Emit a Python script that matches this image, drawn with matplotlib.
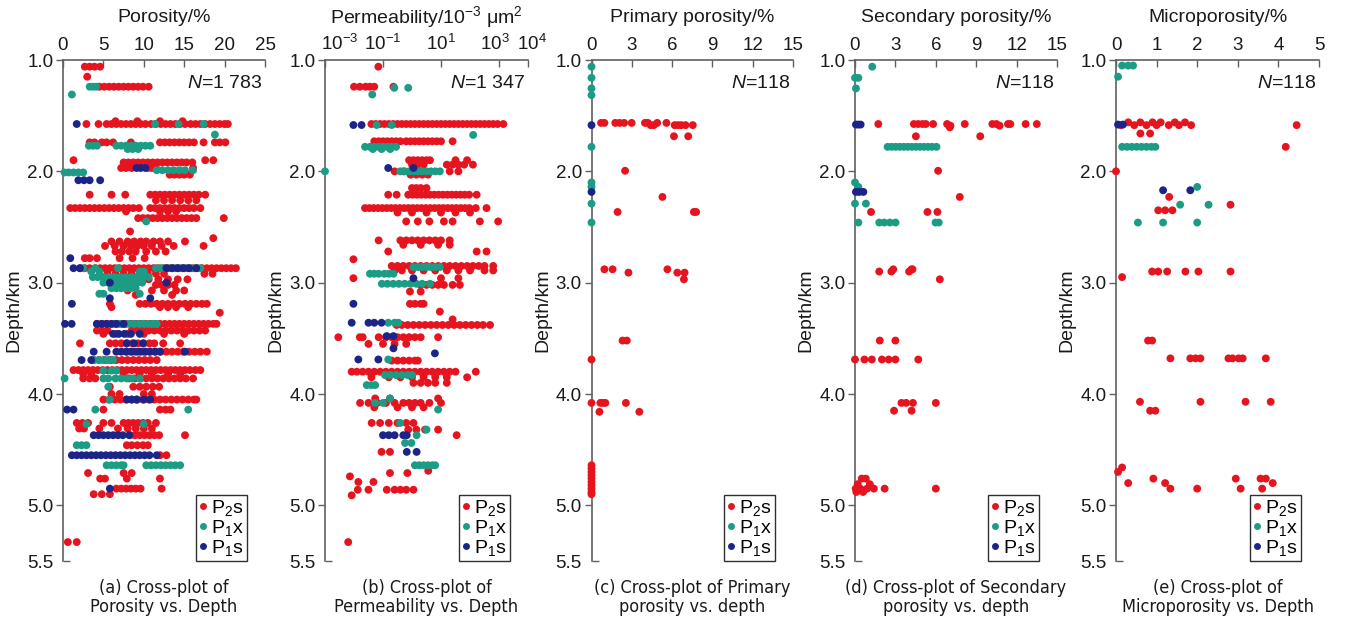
import matplotlib
matplotlib.use("Agg")
import matplotlib.pyplot as plt
from matplotlib.lines import Line2D
from matplotlib.ticker import FixedLocator, FixedFormatter
import matplotlib.transforms as mtransforms

plt.rcParams['font.family'] = ['Liberation Sans', 'DejaVu Sans']
plt.rcParams['mathtext.fontset'] = 'custom'
plt.rcParams['mathtext.rm'] = 'Liberation Sans'
plt.rcParams['mathtext.it'] = 'Liberation Sans:italic'
plt.rcParams['mathtext.default'] = 'regular'

# ---------------- DATA ----------------
series_names = ['P$_2$s', 'P$_1$x', 'P$_1$s']
series_colors = ['#E5141E', '#1C9C84', '#1C2488']

# Panel (a): porosity (%) rows: (depth_km, [porosity values])
a_P2s = [
    (1.06, [2.7, 3.3, 3.9, 4.6]),
    (1.15, [3.0]),
    (1.24, [4.5, 5.1, 5.7, 6.3, 6.9, 7.5, 8.1, 8.7, 9.3, 9.9, 10.6]),
    (1.575, [2.9, 4.4, 5.4, 6.0, 6.6, 7.2, 7.8, 8.4, 9.0, 9.6, 10.2, 10.9, 11.5, 12.1, 12.7, 13.3,
             13.9, 14.5, 15.1, 15.8, 16.4, 17.0, 17.6, 18.2, 18.8, 19.4, 20.0, 20.4]),
    (1.55, [6.5, 9.2, 12.0, 14.8]),
    (1.74, [3.3, 3.9, 4.8, 5.4, 6.2, 8.4, 12.0, 12.6, 13.2, 13.8, 14.4, 15.0, 15.6, 16.2, 17.4,
            18.8, 19.4, 20.1]),
    (1.90, [1.3, 17.6, 18.6]),
    (1.92, [7.5, 8.1, 8.7, 9.3, 9.9, 10.5, 11.1, 11.7, 12.3, 12.9, 13.5, 14.1, 14.7, 15.3, 16.0]),
    (1.97, [7.2, 7.8, 8.5, 10.5, 11.0, 11.5, 16.1]),
    (2.03, [13.2, 13.8, 14.4, 15.0, 15.7]),
    (2.21, [3.3, 6.0, 7.7, 10.8, 11.4, 12.0, 12.6, 13.2, 13.8, 14.4, 15.0, 15.6, 16.2, 16.8, 17.6]),
    (2.26, [11.5, 12.5, 13.5, 14.5, 15.5, 16.5]),
    (2.33, [0.9, 1.5, 2.1, 2.7, 3.3, 3.9, 4.5, 5.1, 5.7, 6.3, 6.9, 7.5, 8.1, 8.7, 9.4, 10.8, 11.4,
            12.0, 12.6, 13.2, 13.8, 14.4, 15.0, 15.6, 16.2, 17.0]),
    (2.36, [7.8, 12.0, 13.0, 14.0]),
    (2.42, [9.3, 9.9, 10.5, 11.1, 11.7, 12.3, 12.9, 13.5, 14.1, 14.7, 15.3, 15.9, 16.5, 19.9]),
    (2.54, [8.3]),
    (2.60, [18.6]),
    (2.63, [6.0, 7.0, 8.0, 8.8, 9.6, 10.3, 11.2, 12.0, 13.0, 15.1]),
    (2.67, [5.2, 6.4, 7.5, 8.4, 9.2, 10.0, 11.0, 12.2, 13.7, 17.4]),
    (2.72, [6.5, 7.3, 8.2, 9.0, 10.3, 11.5, 12.7]),
    (2.78, [2.7, 3.3, 4.2, 7.0, 8.6, 10.1]),
    (2.87, [2.1, 2.7, 3.3, 4.0, 4.6, 5.2, 5.8, 6.4, 7.0, 7.6, 8.2, 8.8, 9.4, 10.0, 10.6, 11.2, 11.8,
            12.4, 13.0, 13.6, 14.2, 14.8, 15.4, 16.0, 16.6, 17.2, 17.8, 18.4, 19.0, 19.6, 20.2,
            20.8, 21.4]),
    (2.92, [5.5, 6.5, 7.5, 8.5, 9.5, 10.5, 11.5, 12.5, 17.5, 18.5]),
    (2.97, [7.0, 8.2, 9.4, 10.6, 11.8, 13.0, 14.2, 15.4]),
    (3.02, [6.0, 11.5, 12.2, 13.0, 13.8]),
    (3.07, [8.0, 11.0, 12.5, 14.0, 15.0]),
    (3.11, [9.0, 13.5]),
    (3.19, [5.8, 9.5, 10.2, 10.9, 11.6, 12.3, 13.0, 13.7, 14.4, 15.1, 15.8, 16.5, 17.2, 17.8]),
    (3.22, [6.0, 12.0, 13.0, 14.0, 15.5]),
    (3.27, [19.4]),
    (3.37, [4.2, 4.8, 5.4, 6.0, 6.6, 7.2, 7.8, 8.4, 9.0, 9.6, 10.2, 10.8, 11.4, 12.0, 12.6, 13.2,
            13.8, 14.4, 15.0, 15.6, 16.2, 16.8, 17.4, 18.0, 18.6, 19.0]),
    (3.43, [4.2, 4.8, 5.5, 8.5, 9.2, 9.9, 10.6, 11.3, 12.0, 12.7, 13.4, 14.1, 14.8, 15.5, 16.2,
            16.9, 17.6]),
    (3.46, [5.0, 6.5, 8.0, 10.0, 12.5, 15.0]),
    (3.545, [2.1, 5.8, 6.5, 7.2, 7.9, 8.6, 9.3, 10.0, 10.7, 11.3, 12.4, 14.5]),
    (3.62, [7.9, 8.6, 9.3, 10.0, 10.7, 11.4, 12.1, 12.8, 13.5, 14.2, 14.9, 15.6, 16.3, 17.0, 17.8]),
    (3.695, [3.8, 4.5, 5.2, 5.9, 6.6, 7.3, 8.0, 8.7, 9.4, 10.1, 10.8, 11.6]),
    (3.785, [1.3, 1.9, 2.5, 3.1, 3.7, 4.3, 4.9, 5.5, 6.1, 6.7, 7.3, 7.9, 8.5, 9.1, 9.7, 10.3, 10.9,
             11.5, 12.1, 12.7, 13.3, 13.9, 14.5, 15.1, 15.7, 16.4, 17.0]),
    (3.82, [2.5, 3.5, 7.5, 9.5, 11.0, 13.0, 14.5]),
    (3.86, [2.5, 3.3, 4.0, 8.2, 8.9, 9.6, 10.3, 11.0, 11.7, 12.4, 13.1, 13.8, 14.5, 15.2, 16.1]),
    (3.935, [5.8, 8.7, 9.5, 10.3, 11.1, 11.9]),
    (4.00, [6.0, 7.0, 10.0, 11.0]),
    (4.05, [5.0, 5.7, 6.4, 7.1, 7.8, 8.5, 9.2, 9.9, 10.6, 11.3, 12.0, 12.7, 13.4, 14.1, 14.8,
            15.5, 16.2, 16.5]),
    (4.14, [5.0, 12.0, 12.7, 13.3]),
    (4.26, [1.7, 2.4, 3.1, 5.0, 6.0, 7.5, 8.1, 8.7, 9.3, 9.9, 10.5, 11.5]),
    (4.31, [2.0, 2.6, 4.5, 6.8, 8.0, 9.0, 10.0, 11.0]),
    (4.37, [8.3, 8.9, 9.5, 10.1, 10.7, 11.3, 11.9, 15.1]),
    (4.46, [7.9, 8.5, 9.2, 9.9, 10.5]),
    (4.55, [12.0, 12.8]),
    (4.71, [3.1, 7.5, 8.5]),
    (4.76, [4.6, 5.2, 7.9, 12.0]),
    (4.85, [6.6, 7.2, 7.8, 8.4, 9.0, 9.6, 12.2]),
    (4.90, [3.8, 4.8, 5.8]),
    (5.33, [0.6, 1.7]),
]
a_P1x = [
    (1.24, [3.3, 3.7, 4.1]),
    (1.31, [1.1]),
    (1.575, [11.4, 14.3, 17.4]),
    (1.67, [18.8]),
    (1.77, [3.2, 3.7, 4.2, 6.6, 7.2, 7.8, 8.4, 9.0, 9.6, 10.2, 10.8]),
    (1.80, [8.0, 8.6, 9.3]),
    (1.99, [11.6, 12.3, 13.0, 13.7, 14.4, 15.1, 16.1]),
    (2.01, [0.2, 0.7, 1.3, 1.9, 2.5]),
    (2.45, [10.3]),
    (2.87, [2.5, 4.0, 6.8, 11.5, 12.1, 12.7, 13.3, 13.9, 14.5, 15.1, 15.7, 16.3, 17.0]),
    (2.90, [3.5, 4.5, 9.5, 10.0]),
    (2.95, [3.7, 4.3, 5.0, 5.7, 6.4, 7.1, 7.8, 8.5, 9.2, 9.9, 10.6]),
    (3.00, [5.0, 5.6, 6.2, 6.8, 7.4, 8.0, 8.6, 9.2, 9.8]),
    (3.05, [6.0, 6.6, 7.2, 7.8, 8.4, 9.0]),
    (3.10, [4.5, 5.0, 9.5]),
    (3.37, [6.4, 7.0, 7.6, 8.2, 8.8, 9.4, 10.0, 10.6, 11.2, 11.6]),
    (3.695, [3.8, 4.4, 5.0, 5.6, 6.2]),
    (3.79, [5.0, 6.0, 6.6]),
    (3.86, [0.2, 5.0, 5.6, 6.5, 7.2, 7.9, 8.6, 9.5]),
    (3.935, [5.6]),
    (4.05, [5.8, 9.1]),
    (4.14, [4.0, 15.5]),
    (4.27, [2.9, 10.0]),
    (4.46, [1.7, 2.3, 2.9]),
    (4.64, [5.4, 6.0, 6.6, 7.2, 7.5, 10.3, 10.9, 11.5, 12.1, 12.7, 13.3, 13.9, 14.5]),
]
a_P1s = [
    (1.575, [1.7]),
    (1.97, [9.1, 9.6, 10.2]),
    (2.08, [1.9, 2.6, 3.3, 4.6]),
    (2.78, [0.9]),
    (2.87, [1.3, 2.1, 12.8, 13.5, 14.2, 14.9, 15.6, 16.5]),
    (3.00, [5.8, 12.8]),
    (3.14, [5.8, 10.8]),
    (3.19, [1.1]),
    (3.37, [0.25, 1.07, 4.2, 4.8, 5.4, 6.0, 6.6, 7.5]),
    (3.46, [6.2, 6.9, 7.6, 8.4, 9.5]),
    (3.545, [7.9, 8.8, 9.9]),
    (3.62, [3.8, 5.4, 6.6, 7.2, 7.8, 8.4, 9.0, 9.6, 10.2, 10.8, 11.4, 12.0, 15.1]),
    (3.695, [2.3, 3.5]),
    (4.05, [7.9, 8.5, 9.1, 10.0, 10.8]),
    (4.14, [0.5, 1.3]),
    (4.37, [3.8, 4.4, 5.0, 5.6, 6.2, 6.8, 7.4, 8.2]),
    (4.55, [1.1, 1.7, 2.3, 2.9, 3.5, 4.1, 4.7, 5.3, 5.9, 6.5, 7.1, 7.7, 8.3, 8.9, 9.5, 10.1,
            10.7, 11.6]),
    (4.85, [5.8]),
]

# Panel (b): permeability rows: (depth_km, [log10 permeability, 10^-3 um^2])
b_P2s = [
    (1.06, [-1.16]),
    (1.24, [-2.0, -1.8, -1.6, -1.45, -1.3, -0.64]),
    (1.575, [-1.4, -1.25, -1.1, -0.95, -0.8, -0.65, -0.5, -0.35, -0.2, -0.05, 0.1, 0.25, 0.4,
             0.55, 0.7, 0.85, 1.0, 1.15, 1.3, 1.45, 1.6, 1.75, 1.9, 2.05, 2.2, 2.35, 2.5, 2.65,
             2.8, 2.95, 3.15]),
    (1.73, [-1.3, -1.15, -1.0, -0.85, -0.7, -0.55, -0.4, -0.2, -0.05, 0.1, 0.25, 0.4, 0.55, 0.7,
            0.85, 1.0, 1.4]),
    (1.90, [-0.1, 0.05, 0.2, 0.35, 0.5, 0.62, 1.5, 1.9]),
    (1.94, [0.0, 0.2, 0.4, 1.2, 1.4, 1.6, 1.8, 2.1]),
    (2.00, [-0.6, -0.3, 0.0, 1.3, 1.6]),
    (2.03, [-0.05, 0.15, 0.35, 0.55]),
    (2.15, [0.0, 0.15, 0.3, 0.5]),
    (2.21, [-0.82, -0.53, -0.13, 0.02, 0.17, 0.32, 0.47, 0.62, 0.77, 0.92, 1.07, 1.22, 1.37,
            1.52, 1.67, 1.82, 1.97, 2.23]),
    (2.33, [-1.62, -1.47, -1.32, -1.17, -1.02, -0.87, -0.72, -0.57, -0.42, -0.27, -0.12, 0.03,
            0.18, 0.33, 0.48, 0.63, 0.78, 0.93, 1.08, 1.23, 1.38, 1.53, 1.68, 1.83, 1.98, 2.2,
            2.57]),
    (2.37, [-0.5, 0.0, 0.5, 1.0, 1.5, 2.0]),
    (2.45, [-0.2, 0.2, 0.6, 1.1, 1.4, 2.34, 2.97]),
    (2.62, [-1.15, -0.4, -0.2, 0.0, 0.2, 0.4, 0.6, 0.8, 1.0, 1.3]),
    (2.66, [-0.3, 0.3, 0.9, 1.3]),
    (2.72, [-0.82, 2.23, 2.57]),
    (2.79, [-2.02]),
    (2.85, [-0.7, -0.5, -0.3, -0.1, 0.1, 0.3, 0.5, 0.7, 0.9, 1.1, 1.3, 1.5, 1.7, 1.9, 2.1, 2.3,
            2.5, 2.8]),
    (2.89, [-0.6, -0.35, 0.0, 0.4, 0.8, 1.2, 1.6, 2.0, 2.5, 2.8]),
    (2.96, [-2.02, 1.0, 1.6]),
    (3.02, [0.3, 0.5, 0.7, 0.9, 1.1, 1.4, 1.65]),
    (3.08, [-0.07, 0.3]),
    (3.19, [-0.07, 0.1, 0.3, 0.4]),
    (3.26, [0.96]),
    (3.33, [1.4]),
    (3.38, [-0.53, -0.35, -0.15, 0.05, 0.25, 0.45, 0.65, 0.85, 1.05, 1.25, 1.45, 1.65, 1.85,
            2.05, 2.25, 2.45, 2.69]),
    (3.49, [-2.54, -1.8, -1.7, -1.15, -0.9, -0.7, -0.5, -0.3, -0.1, 0.1, 0.3, 0.9]),
    (3.55, [-1.5, -1.0, -0.6, -0.2]),
    (3.70, [-0.7, -0.5, -0.3, -0.1, 0.1, 0.2]),
    (3.80, [-2.08, -1.9, -1.7, -1.5, -1.3, -1.1, -0.9, -0.7, -0.5, -0.3, -0.1, 0.1, 0.3, 0.5,
            0.7, 0.9, 1.1, 1.3, 1.5, 2.2]),
    (3.85, [-1.4, -0.8, -0.4, 0.0, 0.4, 0.8, 1.2, 1.9]),
    (3.90, [0.05, 0.3, 0.55, 0.8, 1.2]),
    (4.04, [-1.27, -0.76, 0.9]),
    (4.08, [-1.79, -1.5, -1.2, -0.9, -0.6, -0.3, -0.1, 0.1, 0.3, 0.6, 1.0]),
    (4.12, [-1.3, -0.5, 0.0, 0.4]),
    (4.26, [-1.39, -1.1, -0.8, -0.5, -0.2, 0.05]),
    (4.32, [-0.13, 0.15, 0.45, 0.9]),
    (4.37, [1.54]),
    (4.52, [-1.05, -0.76]),
    (4.69, [0.56]),
    (4.71, [-0.76, -0.16]),
    (4.74, [-2.14]),
    (4.79, [-1.85, -1.33]),
    (4.86, [-1.87, -1.5, -0.87, -0.6, -0.4, -0.2, 0.05]),
    (4.91, [-2.08]),
    (5.33, [-2.2]),
]
b_P1x = [
    (1.25, [-0.61, -0.13]),
    (1.31, [-1.37]),
    (1.584, [-1.22, -0.7]),
    (1.673, [2.11]),
    (1.78, [-1.62, -1.45, -1.3, -1.15, -1.0, -0.85, -0.7, -0.55]),
    (1.80, [-1.35, -1.05, -0.75]),
    (2.00, [-3.0, -0.41, -0.25, -0.1, 0.05, 0.2, 0.35, 0.5, 0.65, 0.8, 0.96]),
    (2.86, [0.05, 0.2, 0.35, 0.5, 0.65, 0.8, 0.96]),
    (2.92, [-1.45, -1.3, -1.15, -0.95, -0.8, -0.64]),
    (3.01, [-1.04, -0.85, -0.65, -0.45, -0.25, -0.05, 0.15, 0.35, 0.62]),
    (3.36, [-0.82, -0.6, -0.47]),
    (3.69, [-0.82]),
    (3.83, [-0.93, -0.75, -0.55, -0.35, -0.15, 0.0]),
    (3.92, [-1.56, -1.4, -1.27]),
    (4.04, [-0.76]),
    (4.08, [-1.27, -1.0]),
    (4.14, [0.9]),
    (4.26, [-0.41]),
    (4.32, [0.5]),
    (4.37, [0.16]),
    (4.44, [-0.24, -0.02]),
    (4.64, [0.1, 0.25, 0.4, 0.55, 0.7, 0.8]),
]
b_P1s = [
    (1.584, [-2.02, -1.74]),
    (1.97, [-0.82, 0.05]),
    (2.96, [0.05]),
    (3.19, [-2.02]),
    (3.36, [-2.08, -1.5, -1.3, -1.05]),
    (3.48, [-0.87, -0.64]),
    (3.59, [-0.64]),
    (3.635, [0.79]),
    (3.69, [-1.85, -1.16]),
    (4.37, [-1.0, -0.8, -0.6, -0.3, -0.18]),
    (4.52, [-0.18, 0.16]),
]

# Panel (c): primary porosity (%)
c_P2s = [
    (1.565, [0.71, 0.96, 1.77, 2.09, 2.43, 2.99, 3.98, 4.2, 4.89, 5.58]),
    (1.585, [4.4, 4.64, 6.19, 6.44, 6.68, 7.0, 7.54]),
    (1.685, [6.14, 7.2]),
    (1.995, [2.5]),
    (2.23, [5.28]),
    (2.365, [1.94, 7.62, 7.79]),
    (2.88, [0.96, 1.57, 5.65]),
    (2.91, [2.75, 6.39, 6.93]),
    (2.97, [6.88]),
    (3.52, [2.31, 2.63]),
    (3.69, [0.0]),
    (4.08, [0.0, 0.66, 0.86, 1.03, 2.56]),
    (4.16, [0.59, 3.56]),
    (4.64, [0.0]), (4.67, [0.0]), (4.70, [0.0]), (4.73, [0.0]), (4.76, [0.0]),
    (4.79, [0.0]), (4.82, [0.0]), (4.85, [0.0]), (4.88, [0.0]), (4.90, [0.0]),
]
c_P1x = [
    (1.06, [0.0]), (1.16, [0.0]), (1.255, [0.0]), (1.315, [0.0]), (1.78, [0.0]),
    (2.10, [0.0]), (2.14, [0.0]), (2.29, [0.0]), (2.46, [0.0]),
]
c_P1s = [(1.585, [0.0]), (2.185, [0.0])]

# Panel (d): secondary porosity (%)
d_P2s = [
    (1.575, [1.73, 4.37, 4.69, 5.01, 5.26, 5.8, 6.84, 8.15, 10.2, 10.5, 11.36, 11.53, 12.67, 13.5]),
    (1.59, [7.09, 10.74]),
    (1.605, [7.04]),
    (1.685, [4.52, 9.3]),
    (1.995, [6.17]),
    (2.23, [7.78]),
    (2.365, [1.19, 5.38, 6.12]),
    (2.88, [2.84, 4.2, 4.27]),
    (2.90, [1.8, 2.7, 4.02]),
    (2.97, [6.3]),
    (3.52, [1.84, 3.0]),
    (3.69, [0.0, 0.7, 1.25, 2.0, 2.5, 3.0, 4.7]),
    (4.08, [3.45, 3.8, 4.3, 6.0]),
    (4.15, [2.9, 4.2]),
    (4.76, [0.5, 0.8]),
    (4.81, [0.2, 1.1]),
    (4.85, [0.05, 0.4, 0.9, 1.4, 2.2, 6.0]),
    (4.88, [0.1, 0.6]),
]
d_P1x = [
    (1.06, [1.28]),
    (1.16, [0.0, 0.25]),
    (1.255, [0.07]),
    (1.78, [2.42, 2.72, 3.02, 3.32, 3.62, 3.92, 4.22, 4.52, 4.82, 5.12, 5.42, 5.72, 6.05]),
    (2.10, [0.0]),
    (2.14, [0.25]),
    (2.29, [0.0, 0.81]),
    (2.46, [0.25, 1.8, 2.17, 2.59, 3.01, 5.98, 6.22]),
]
d_P1s = [(1.58, [0.07, 0.25, 0.42]), (2.185, [0.07, 0.32, 0.62])]

# Panel (e): microporosity (%)
e_P2s = [
    (1.56, [0.3, 0.6, 0.9, 1.1, 1.45, 1.7]),
    (1.585, [0.12, 0.45, 0.75, 1.0, 1.3, 1.55, 1.85, 4.45]),
    (1.66, [0.6, 0.84]),
    (1.78, [4.18]),
    (2.00, [0.0]),
    (2.23, [1.31]),
    (2.30, [2.82]),
    (2.35, [1.04, 1.21, 1.39]),
    (2.90, [0.89, 1.04, 1.26, 1.71, 2.03, 2.82]),
    (2.95, [0.15]),
    (3.52, [0.79, 0.89]),
    (3.68, [1.34, 1.83, 1.96, 2.08, 2.77, 2.87, 3.02, 3.12, 3.69]),
    (4.07, [0.59, 2.08, 3.19, 3.81]),
    (4.15, [0.84, 0.97]),
    (4.66, [0.15]),
    (4.70, [0.05]),
    (4.76, [0.92, 2.95, 3.56, 3.69]),
    (4.80, [0.3, 1.21, 3.86]),
    (4.85, [1.34, 2.0, 3.07, 3.6]),
]
e_P1x = [
    (1.05, [0.15, 0.3, 0.42]),
    (1.15, [0.05]),
    (1.78, [0.15, 0.27, 0.39, 0.51, 0.63, 0.75, 0.87, 0.97]),
    (2.14, [2.0]),
    (2.30, [1.58, 2.28]),
    (2.46, [0.54, 1.16, 2.0]),
]
e_P1s = [(1.58, [0.05, 0.17]), (2.17, [1.16, 1.83])]

titles = ['Porosity/%', 'Permeability/10$^{-3}$ \u03bcm$^{2}$', 'Primary porosity/%',
          'Secondary porosity/%', 'Microporosity/%']
n_labels = ['1 783', '1 347', '118', '118', '118']
captions = [('(a) Cross-plot of', 'Porosity vs. Depth'),
            ('(b) Cross-plot of', 'Permeability vs. Depth'),
            ('(c) Cross-plot of Primary', 'porosity vs. depth'),
            ('(d) Cross-plot of Secondary', 'porosity vs. depth'),
            ('(e) Cross-plot of', 'Microporosity vs. Depth')]
xticks_list = [[0, 5, 10, 15, 20, 25], [1e-3, 1e-1, 1e1, 1e3, 1e4],
               [0, 3, 6, 9, 12, 15], [0, 3, 6, 9, 12, 15], [0, 1, 2, 3, 4, 5]]
xticklabels_list = [['0', '5', '10', '15', '20', '25'],
                    ['10$^{-3}$', '10$^{-1}$', '10$^{1}$', '10$^{3}$', '10$^{4}$'],
                    ['0', '3', '6', '9', '12', '15'], ['0', '3', '6', '9', '12', '15'],
                    ['0', '1', '2', '3', '4', '5']]
xlims = [(0, 25), (1e-3, 1e4), (0, 15), (0, 15), (0, 5)]
depth_ticks = [1.0, 2.0, 3.0, 4.0, 5.0]
depth_labels = ['1.0', '2.0', '3.0', '4.0', '5.0']
panel_data = [(a_P2s, a_P1x, a_P1s), (b_P2s, b_P1x, b_P1s), (c_P2s, c_P1x, c_P1s),
              (d_P2s, d_P1x, d_P1s), (e_P2s, e_P1x, e_P1s)]
log_x = [False, True, False, False, False]

# ---------------- LAYOUT ----------------
W, H = 1346, 625
fig = plt.figure(figsize=(W / 100, H / 100), dpi=100)
lefts = [63, 325, 591.5, 855, 1116]
rights = [265, 528, 793, 1057, 1319]
top_px, bot_px = 60, 561
spine_c = '#606060'
text_c = '#1a1a1a'
fs = 13.5
cap_family = ['DejaVu Sans', 'Liberation Sans']

for i in range(5):
    l, r = lefts[i], rights[i]
    ax = fig.add_axes([l / W, 1 - bot_px / H, (r - l) / W, (bot_px - top_px) / H])
    for k in range(3):
        xs, ys = [], []
        for depth, vals in panel_data[i][k]:
            for v in vals:
                xs.append(10 ** v if log_x[i] else v)
                ys.append(depth)
        ax.scatter(xs, ys, s=32, color=series_colors[k], edgecolors='none',
                   zorder=3 + k, clip_on=False)
    if log_x[i]:
        ax.set_xscale('log')
    ax.set_xlim(*xlims[i])
    ax.set_ylim(5.5, 1.0)
    ax.xaxis.set_ticks_position('top')
    ax.xaxis.set_label_position('top')
    ax.set_xticks(xticks_list[i])
    ax.set_xticklabels(xticklabels_list[i])
    ax.xaxis.set_minor_locator(FixedLocator([]))
    ax.tick_params(axis='x', which='major', direction='in', length=5, width=1,
                   color=spine_c, labelsize=fs, labelcolor=text_c, pad=4)
    ax.set_yticks(depth_ticks)
    ax.set_yticklabels(depth_labels)
    ax.tick_params(axis='y', which='major', direction='out', length=5, width=1,
                   color=spine_c, labelsize=fs, labelcolor=text_c, pad=2)
    ax.yaxis.set_minor_locator(FixedLocator([5.5]))
    ax.yaxis.set_minor_formatter(FixedFormatter(['5.5']))
    ax.tick_params(axis='y', which='minor', direction='in', length=5, width=1,
                   color=spine_c, labelsize=fs, labelcolor=text_c, pad=7, labelleft=True)
    for s in ['right', 'bottom']:
        ax.spines[s].set_visible(False)
    for s in ['left', 'top']:
        ax.spines[s].set_color(spine_c)
        ax.spines[s].set_linewidth(1.2)
    ax.set_ylabel('Depth/km', fontsize=fs + 0.5, color=text_c, labelpad=3)
    if log_x[i]:
        labs = ax.get_xticklabels()
        labs[0].set_horizontalalignment('left')
        labs[0].set_transform(labs[0].get_transform() +
                              mtransforms.ScaledTranslation(-3 / 72, 0, fig.dpi_scale_trans))
        labs[3].set_transform(labs[3].get_transform() +
                              mtransforms.ScaledTranslation(-3 / 72, 0, fig.dpi_scale_trans))
        labs[-1].set_transform(labs[-1].get_transform() +
                               mtransforms.ScaledTranslation(3 / 72, 0, fig.dpi_scale_trans))
    # title
    fig.text((l + r) / 2 / W, 1 - 17 / H, titles[i], ha='center', va='center',
             fontsize=fs + 0.5, color=text_c)
    # N label
    trans = mtransforms.blended_transform_factory(ax.transAxes, ax.transData)
    ax.text(1 - 3 / (r - l), 1.215, '$\\mathit{N}$=' + n_labels[i], transform=trans,
            fontsize=fs + 0.5, color=text_c, ha='right', va='center', zorder=12)
    # captions
    cx = (l + r) / 2 / W
    fig.text(cx, 1 - 588 / H, captions[i][0], ha='center', va='center', fontsize=fs - 0.5,
             color=text_c, family=cap_family, stretch='condensed')
    fig.text(cx, 1 - 607 / H, captions[i][1], ha='center', va='center', fontsize=fs - 0.5,
             color=text_c, family=cap_family, stretch='condensed')
    # legend
    handles = [Line2D([], [], marker='o', linestyle='none', markersize=5,
                      markerfacecolor=series_colors[k], markeredgecolor='none')
               for k in range(3)]
    leg = ax.legend(handles, series_names, loc='lower right',
                    bbox_to_anchor=(1 - 18 / (r - l), 0), borderaxespad=0,
                    frameon=True, fancybox=False, edgecolor='#303030', fontsize=fs + 0.5,
                    handlelength=0.5, handletextpad=0.15, labelspacing=0.0,
                    borderpad=0.15, framealpha=1)
    leg.get_frame().set_linewidth(1.0)
    leg.set_zorder(10)

fig.savefig('out.png', dpi=100)
